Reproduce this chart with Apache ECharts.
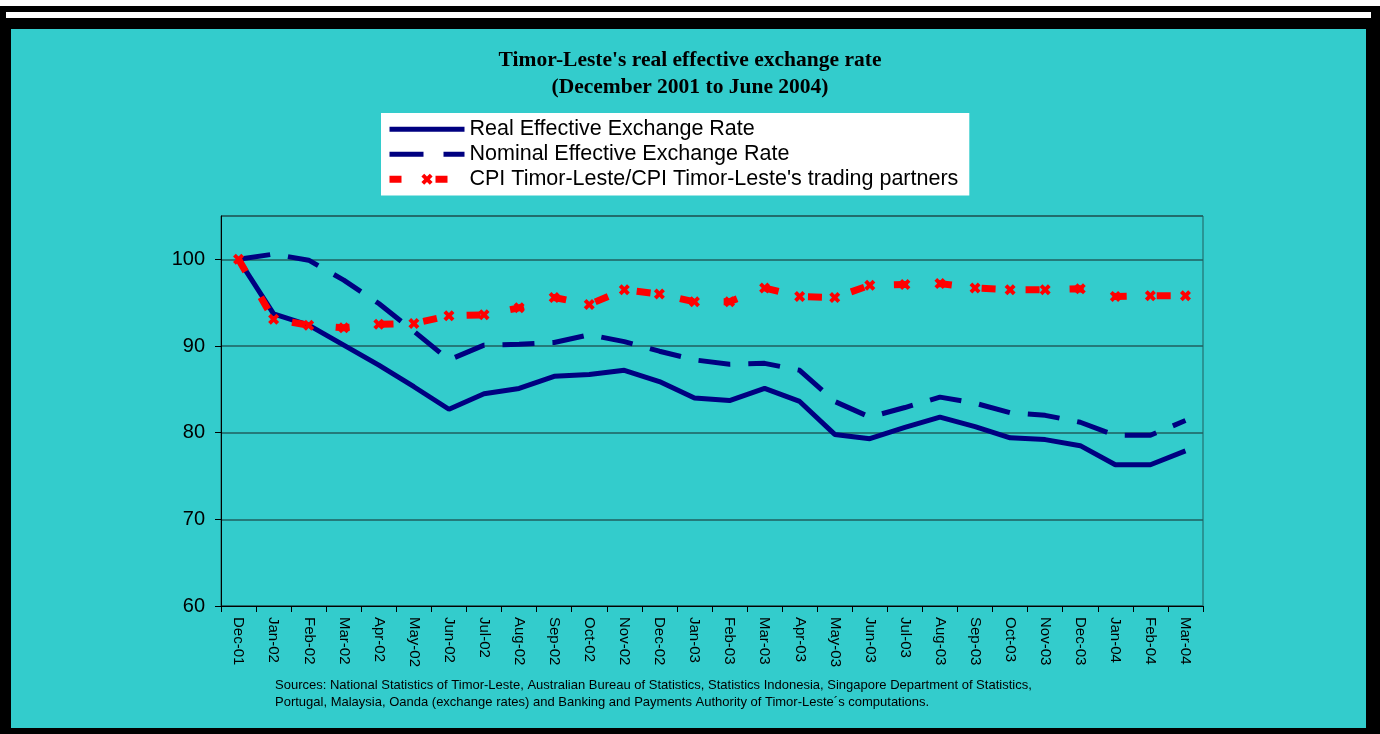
<!DOCTYPE html>
<html>
<head>
<meta charset="utf-8">
<script src="https://cdn.jsdelivr.net/npm/echarts@6/dist/echarts.min.js"></script>
<style>
html,body{margin:0;padding:0;background:#000;}
#c{width:1380px;height:734px;}
</style>
</head>
<body>
<div id="c"></div>
<script>
const categories = ['Dec-01','Jan-02','Feb-02','Mar-02','Apr-02','May-02','Jun-02','Jul-02','Aug-02','Sep-02','Oct-02','Nov-02','Dec-02','Jan-03','Feb-03','Mar-03','Apr-03','May-03','Jun-03','Jul-03','Aug-03','Sep-03','Oct-03','Nov-03','Dec-03','Jan-04','Feb-04','Mar-04'];
const realRate = [100,93.7,92.4,90.1,87.8,85.3,82.7,84.5,85.1,86.5,86.7,87.2,85.9,84.0,83.7,85.1,83.6,79.8,79.3,80.6,81.8,80.7,79.4,79.2,78.5,76.3,76.3,77.9];
const nominalRate = [100,100.6,99.9,97.6,94.9,91.7,88.4,90.1,90.2,90.4,91.3,90.5,89.4,88.4,87.9,88.0,87.2,83.6,81.8,82.9,84.1,83.4,82.3,82.0,81.2,79.7,79.7,81.4];
const cpiRatio = [100,93.1,92.4,92.1,92.5,92.6,93.5,93.6,94.4,95.6,94.8,96.5,96.0,95.1,95.1,96.7,95.7,95.6,97.0,97.1,97.2,96.7,96.5,96.5,96.6,95.7,95.8,95.8];
const seriesNames = ['Real Effective Exchange Rate','Nominal Effective Exchange Rate',"CPI Timor-Leste/CPI Timor-Leste's trading partners"];
const titleText = "Timor-Leste's real effective exchange rate\n(December 2001 to June 2004)";
const sourceLines = ['Sources: National Statistics of Timor-Leste, Australian Bureau of Statistics, Statistics Indonesia, Singapore Department of Statistics,',
  'Portugal, Malaysia, Oanda (exchange rates) and Banking and Payments Authority of Timor-Leste\u00b4s computations.'];
const yMin = 60, yMax = 105, yStep = 10;

const xSymbol = 'path://M0,3L3,0L6,3L9,0L12,3L9,6L12,9L9,12L6,9L3,12L0,9L3,6Z';
const chart = echarts.init(document.getElementById('c'), null, {renderer:'canvas'});
const sans = 'Liberation Sans, Arial, sans-serif';
chart.setOption({
  animation:false,
  backgroundColor:'#000000',
  graphic:[
    {type:'rect', shape:{x:0,y:0,width:1380,height:6}, style:{fill:'#ffffff'}, z:-10},
    {type:'rect', shape:{x:6,y:12,width:1365,height:6}, style:{fill:'#ffffff'}, z:-10},
    {type:'rect', shape:{x:11,y:29,width:1355,height:699}, style:{fill:'#33CCCC'}, z:-10},
    {type:'text', left:275, top:679, style:{text:sourceLines[0], font:'13px '+sans, fill:'#000'}},
    {type:'text', left:275, top:696, style:{text:sourceLines[1], font:'13px '+sans, fill:'#000'}}
  ],
  title:{
    text:titleText, left:'center', top:42,
    textStyle:{fontFamily:'Liberation Serif, Times New Roman, serif', fontWeight:'bold', fontSize:21.5, lineHeight:27, color:'#000'}
  },
  legend:{
    data:[
      {name:seriesNames[0], itemStyle:{opacity:0}, lineStyle:{width:5, color:'#000080', type:'solid'}},
      {name:seriesNames[1], itemStyle:{opacity:0}, lineStyle:{width:5, color:'#000080', type:[34,20]}},
      {name:seriesNames[2], lineStyle:{width:7, color:'#FF0000', type:[12,34]}}
    ],
    orient:'vertical', left:381, top:113,
    backgroundColor:'#ffffff', padding:[4,11,4,5],
    itemWidth:75, itemHeight:14, itemGap:0.5,
    textStyle:{fontFamily:sans, fontSize:21.5, color:'#000', lineHeight:24.5}
  },
  grid:{left:221, right:177, top:216, bottom:128, show:true, borderColor:'#215f5f', borderWidth:1, backgroundColor:'transparent'},
  xAxis:{
    type:'category', data:categories, boundaryGap:true,
    axisLine:{lineStyle:{color:'#000', width:1}},
    axisTick:{show:true, interval:0, length:6, lineStyle:{color:'#000'}},
    axisLabel:{interval:0, rotate:-90, fontFamily:sans, fontSize:15, color:'#000', margin:11}
  },
  yAxis:{
    type:'value', min:yMin, max:yMax, interval:yStep,
    axisLine:{show:true, lineStyle:{color:'#000', width:1}},
    axisTick:{show:true, length:6, lineStyle:{color:'#000'}},
    axisLabel:{fontFamily:sans, fontSize:20, color:'#000', margin:16, showMaxLabel:false},
    splitLine:{show:true, lineStyle:{color:'#215f5f', width:1.5}}
  },
  series:[
    {name:seriesNames[0], type:'line', data:realRate, symbol:'none', color:'#000080',
     lineStyle:{color:'#000080', width:5}, z:2},
    {name:seriesNames[1], type:'line', data:nominalRate, symbol:'none', color:'#000080',
     lineStyle:{color:'#000080', width:5, type:[32,18]}, z:2},
    {name:seriesNames[2], type:'line', data:cpiRatio, symbol:xSymbol, symbolSize:11, showSymbol:true, color:'#FF0000',
     itemStyle:{color:'#FF0000'},
     lineStyle:{color:'#FF0000', width:7, type:[14,30]}, z:3}
  ]
});
</script>
</body>
</html>
